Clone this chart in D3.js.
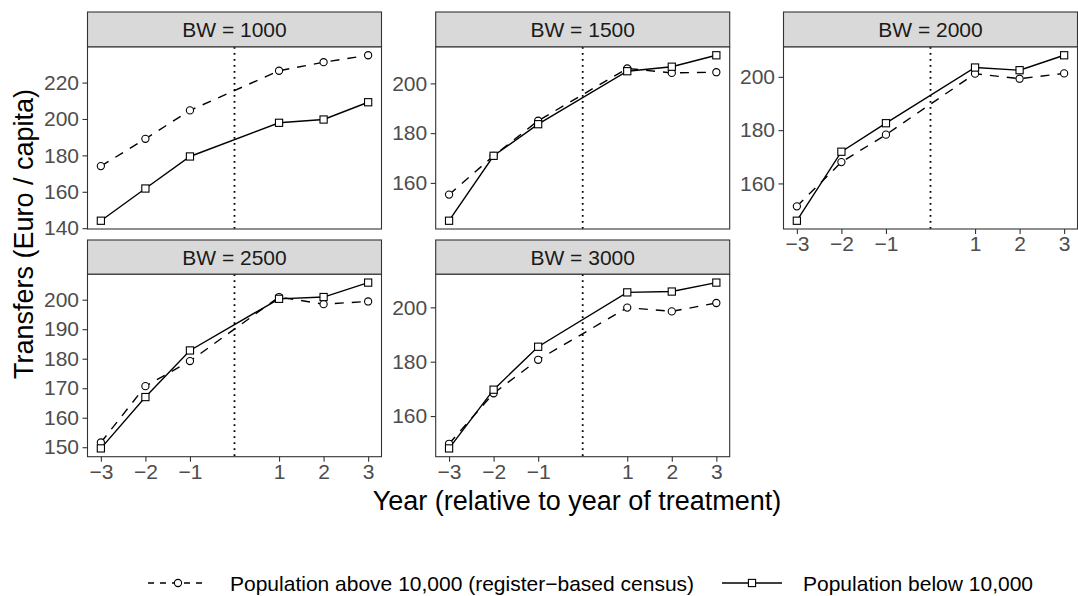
<!DOCTYPE html>
<html>
<head>
<meta charset="utf-8">
<script src="https://cdn.jsdelivr.net/npm/d3@7"></script>
<style>
  html, body { margin: 0; padding: 0; background: #fff; }
  svg { display: block; font-family: "Liberation Sans", Arial, Helvetica, sans-serif; }
</style>
</head>
<body>
<svg id="chart" width="1078" height="596"></svg>
<script>
// ---------------- data ----------------
const years = [-3, -2, -1, 1, 2, 3];
const xTickLabels = ["\u22123", "\u22122", "\u22121", "1", "2", "3"];
const panelTitles = ["BW = 1000", "BW = 1500", "BW = 2000", "BW = 2500", "BW = 3000"];
const above1000 = [174.1, 189.1, 204.7, 226.5, 231.2, 235.0];
const below1000 = [144.1, 161.8, 179.4, 197.9, 199.7, 209.2];
const above1500 = [155.3, 170.9, 185.0, 206.0, 204.2, 204.5];
const below1500 = [144.8, 170.9, 183.6, 204.9, 206.7, 211.3];
const above2000 = [151.4, 168.0, 178.3, 201.2, 199.3, 201.3];
const below2000 = [146.0, 171.9, 182.6, 203.5, 202.5, 208.1];
const above2500 = [151.6, 170.7, 179.2, 200.9, 198.5, 199.4];
const below2500 = [149.6, 167.0, 182.8, 200.3, 200.9, 205.8];
const above3000 = [149.8, 168.4, 180.7, 199.9, 198.5, 201.6];
const below3000 = [148.1, 169.7, 185.5, 205.5, 205.8, 209.1];
const yTicks1000 = [140, 160, 180, 200, 220];
const yTicks1500 = [160, 180, 200];
const yTicks2000 = [160, 180, 200];
const yTicks2500 = [150, 160, 170, 180, 190, 200];
const yTicks3000 = [160, 180, 200];
const seriesNames = ["Population above 10,000 (register\u2212based census)", "Population below 10,000"];
const xTitle = "Year (relative to year of treatment)";
const yTitle = "Transfers (Euro / capita)";

const panelsData = [
  { title: panelTitles[0], above: above1000, below: below1000, ticks: yTicks1000, col: 0, row: 0, xAxis: false },
  { title: panelTitles[1], above: above1500, below: below1500, ticks: yTicks1500, col: 1, row: 0, xAxis: false },
  { title: panelTitles[2], above: above2000, below: below2000, ticks: yTicks2000, col: 2, row: 0, xAxis: true },
  { title: panelTitles[3], above: above2500, below: below2500, ticks: yTicks2500, col: 0, row: 1, xAxis: true },
  { title: panelTitles[4], above: above3000, below: below3000, ticks: yTicks3000, col: 1, row: 1, xAxis: true }
];

// ---------------- layout ----------------
const colLeft = [87.5, 435.7, 783.5];
const panelW = 294;
const rows = [ { stripTop: 12, plotTop: 47, plotBottom: 229 },
               { stripTop: 240, plotTop: 274.3, plotBottom: 456.7 } ];
const smallFont = 21, titleFont = 27;
const borderCol = "#333333";
const dashPat = "9,8";

const svg = d3.select("#chart");

panelsData.forEach(p => {
  const L = colLeft[p.col], R = L + panelW;
  const rw = rows[p.row];
  const x = d3.scaleLinear().domain([-3.3, 3.3]).range([L, R]);
  const all = p.above.concat(p.below);
  const mn = d3.min(all), mx = d3.max(all), ex = (mx - mn) * 0.05;
  const y = d3.scaleLinear().domain([mn - ex, mx + ex]).range([rw.plotBottom, rw.plotTop]);

  const g = svg.append("g");
  // strip
  g.append("rect").attr("x", L).attr("y", rw.stripTop).attr("width", panelW)
    .attr("height", rw.plotTop - rw.stripTop).attr("fill", "#D9D9D9")
    .attr("stroke", borderCol).attr("stroke-width", 1.1);
  g.append("text").attr("x", (L + R) / 2).attr("y", (rw.stripTop + rw.plotTop) / 2)
    .attr("dy", "0.36em").attr("text-anchor", "middle").attr("font-size", smallFont)
    .attr("fill", "#1A1A1A").text(p.title);
  // panel background
  g.append("rect").attr("x", L).attr("y", rw.plotTop).attr("width", panelW)
    .attr("height", rw.plotBottom - rw.plotTop).attr("fill", "#fff");

  // y axis
  const ya = g.append("g").attr("transform", `translate(${L},0)`)
    .call(d3.axisLeft(y).tickValues(p.ticks).tickSize(5).tickPadding(3.5).tickFormat(d3.format("d")));
  ya.select(".domain").remove();
  ya.selectAll(".tick line").attr("stroke", borderCol).attr("stroke-width", 1.1);
  ya.selectAll(".tick text").attr("font-size", smallFont).attr("fill", "#4D4D4D")
    .attr("font-family", "Liberation Sans, Arial, sans-serif");

  // x axis
  if (p.xAxis) {
    const xa = g.append("g").attr("transform", `translate(0,${rw.plotBottom})`)
      .call(d3.axisBottom(x).tickValues(years).tickSize(5).tickPadding(2.5)
        .tickFormat((d, i) => xTickLabels[i]));
    xa.select(".domain").remove();
    xa.selectAll(".tick line").attr("stroke", borderCol).attr("stroke-width", 1.1);
    xa.selectAll(".tick text").attr("font-size", smallFont).attr("fill", "#4D4D4D")
      .attr("font-family", "Liberation Sans, Arial, sans-serif");
  }

  // dotted vertical line at 0
  g.append("line").attr("x1", x(0)).attr("x2", x(0)).attr("y1", rw.plotTop).attr("y2", rw.plotBottom)
    .attr("stroke", "#000").attr("stroke-width", 1.8).attr("stroke-dasharray", "1.8,4.2");

  const line = d3.line().x(d => x(d[0])).y(d => y(d[1]));
  const ab = years.map((yr, i) => [yr, p.above[i]]);
  const be = years.map((yr, i) => [yr, p.below[i]]);
  g.append("path").attr("d", line(ab)).attr("fill", "none").attr("stroke", "#000")
    .attr("stroke-width", 1.4).attr("stroke-dasharray", dashPat);
  g.append("path").attr("d", line(be)).attr("fill", "none").attr("stroke", "#000")
    .attr("stroke-width", 1.4);
  g.selectAll("circle.pt").data(ab).enter().append("circle")
    .attr("cx", d => x(d[0])).attr("cy", d => y(d[1])).attr("r", 3.6)
    .attr("fill", "#fff").attr("stroke", "#000").attr("stroke-width", 1.1);
  g.selectAll("rect.pt").data(be).enter().append("rect")
    .attr("x", d => x(d[0]) - 3.6).attr("y", d => y(d[1]) - 3.6).attr("width", 7.2).attr("height", 7.2)
    .attr("fill", "#fff").attr("stroke", "#000").attr("stroke-width", 1.1);

  // panel border
  g.append("rect").attr("x", L).attr("y", rw.plotTop).attr("width", panelW)
    .attr("height", rw.plotBottom - rw.plotTop).attr("fill", "none")
    .attr("stroke", borderCol).attr("stroke-width", 1.1);
});

// axis titles
svg.append("text").attr("x", 577).attr("y", 510).attr("text-anchor", "middle")
  .attr("font-size", titleFont).attr("fill", "#000").text(xTitle);
svg.append("text").attr("transform", "translate(33,234) rotate(-90)").attr("text-anchor", "middle")
  .attr("font-size", titleFont).attr("fill", "#000").text(yTitle);

// legend
const legY = 583;
const keys = [ { x0: 148, dashed: true, tx: 230 }, { x0: 722, dashed: false, tx: 803 } ];
keys.forEach((k, i) => {
  const lg = svg.append("g");
  lg.append("line").attr("x1", k.x0).attr("x2", k.x0 + 60).attr("y1", legY).attr("y2", legY)
    .attr("stroke", "#000").attr("stroke-width", 1.4)
    .attr("stroke-dasharray", k.dashed ? "6,6" : null);
  if (k.dashed) {
    lg.append("circle").attr("cx", k.x0 + 30).attr("cy", legY).attr("r", 3.6)
      .attr("fill", "#fff").attr("stroke", "#000").attr("stroke-width", 1.1);
  } else {
    lg.append("rect").attr("x", k.x0 + 30 - 3.6).attr("y", legY - 3.6).attr("width", 7.2).attr("height", 7.2)
      .attr("fill", "#fff").attr("stroke", "#000").attr("stroke-width", 1.1);
  }
  lg.append("text").attr("x", k.tx).attr("y", legY).attr("dy", "0.36em")
    .attr("font-size", smallFont).attr("fill", "#000").text(seriesNames[i]);
});
</script>
</body>
</html>
